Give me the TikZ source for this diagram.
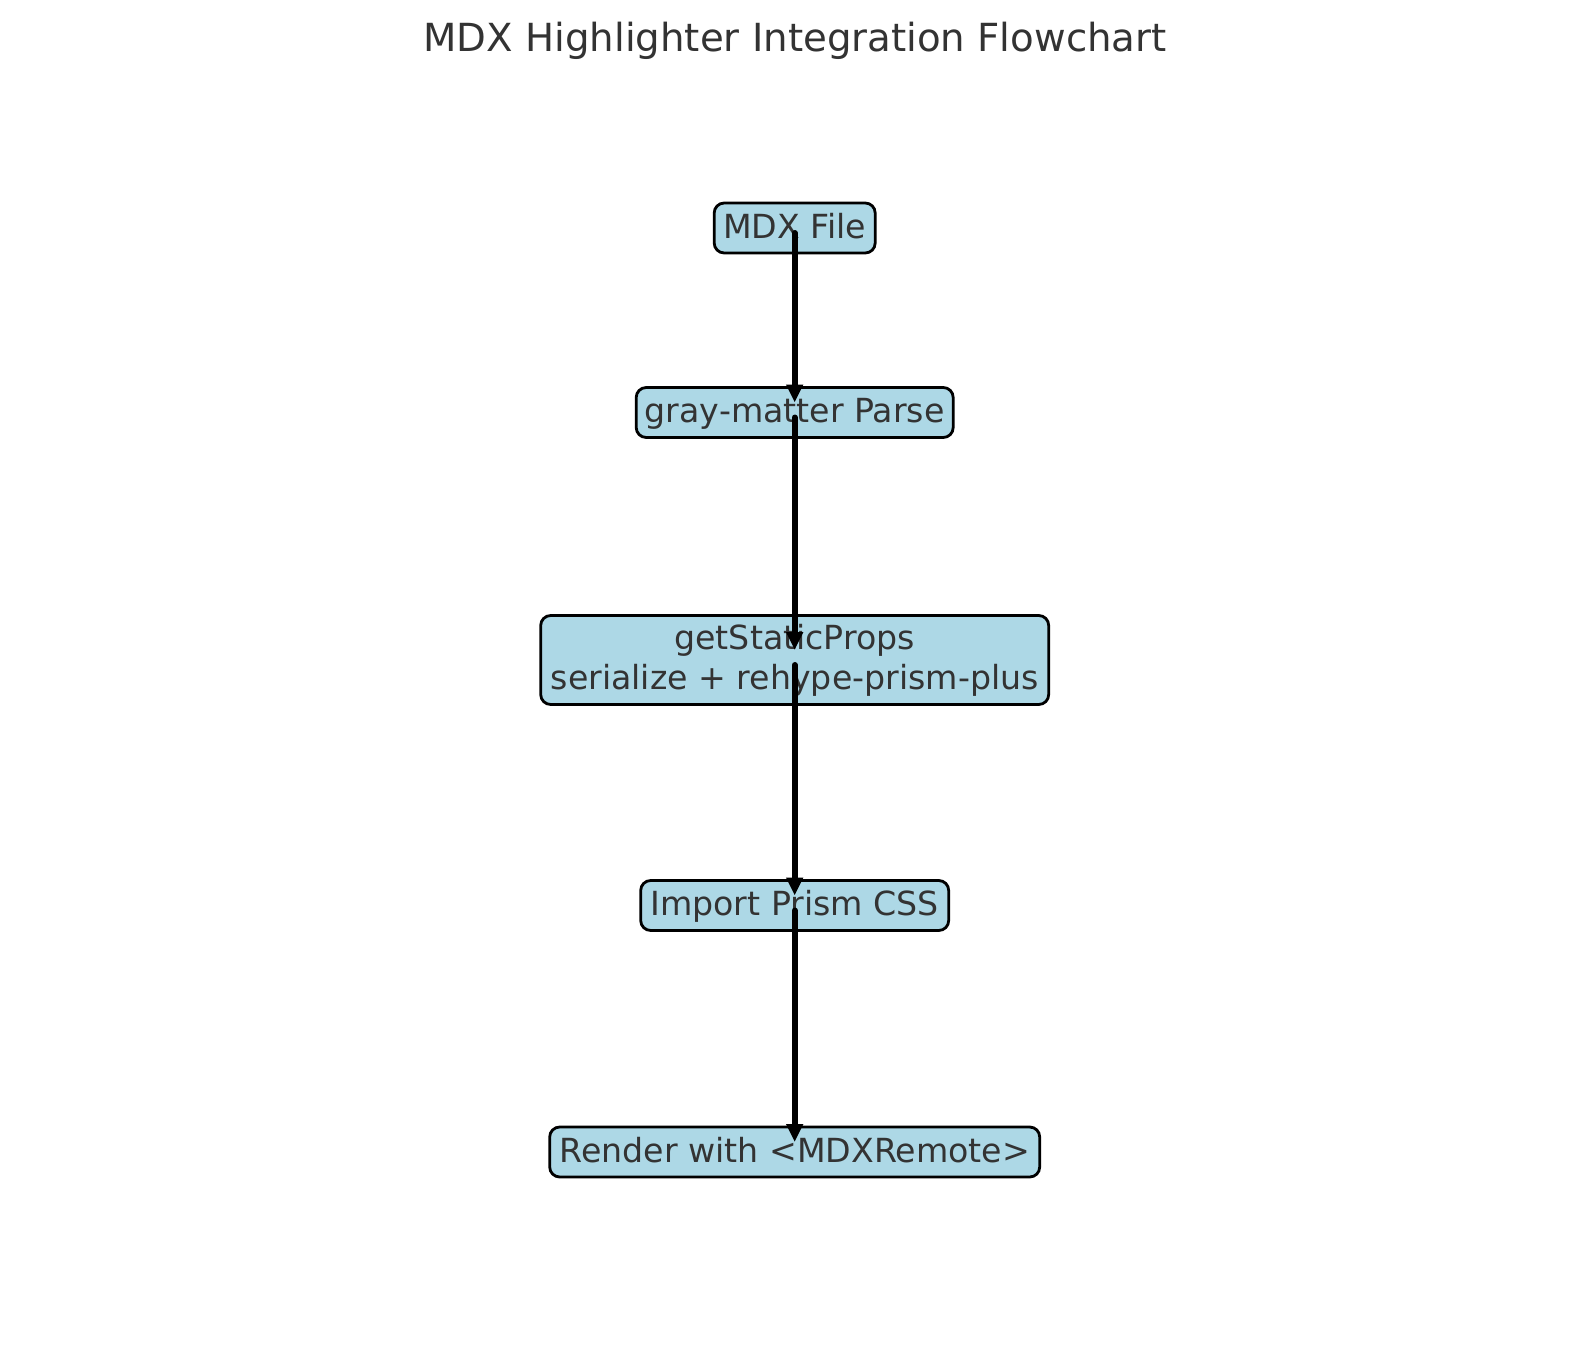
\documentclass[tikz,border=0pt]{standalone}
\usepackage{fontspec}
\setmainfont{DejaVu Sans}
\usetikzlibrary{arrows.meta,calc}
\definecolor{txt}{HTML}{333333}
\definecolor{boxfill}{HTML}{ADD8E6}
\begin{document}
\begin{tikzpicture}[x=1pt,y=-1pt,
  stepbox/.style={draw=black, fill=boxfill, line width=2.8pt, rounded corners=10pt,
    inner sep=0pt, text=txt, align=center,
    font=\fontsize{33.2pt}{39.8pt}\selectfont,
    text height=28.5pt, text depth=8pt},
  flow/.style={draw=black, line width=6pt, line cap=round, -{Triangle[length=18pt,width=16pt]}},
  titlestyle/.style={text=txt, font=\fontsize{38.7pt}{46pt}\selectfont, inner sep=0pt, anchor=base}
]
\useasboundingbox (0,0) rectangle (1589,1357);
\fill[white] (0,0) rectangle (1589,1357);

\node[titlestyle] (title) at (795,51) {MDX Highlighter Integration Flowchart};

\node[stepbox, minimum width=161, minimum height=50] (n1) at (794.7,228) {MDX File};
\node[stepbox, minimum width=317, minimum height=50] (n2) at (794.7,412.5) {gray-matter Parse};
\node[stepbox, minimum width=508, minimum height=89, text height=, text depth=] (n3) at (794.7,660) {getStaticProps\\serialize + rehype-prism-plus};
\node[stepbox, minimum width=308, minimum height=50] (n4) at (794.7,905.5) {Import Prism CSS};
\node[stepbox, minimum width=490, minimum height=50] (n5) at (794.7,1152) {Render with <MDXRemote>};

\draw[flow] ($(n1.center)+(0,5)$) -- ($(n2.center)+(0,-10)$);
\draw[flow] ($(n2.center)+(0,5)$) -- ($(n3.center)+(0,-10)$);
\draw[flow] ($(n3.center)+(0,5)$) -- ($(n4.center)+(0,-10)$);
\draw[flow] ($(n4.center)+(0,5)$) -- ($(n5.center)+(0,-10)$);
\end{tikzpicture}
\end{document}
